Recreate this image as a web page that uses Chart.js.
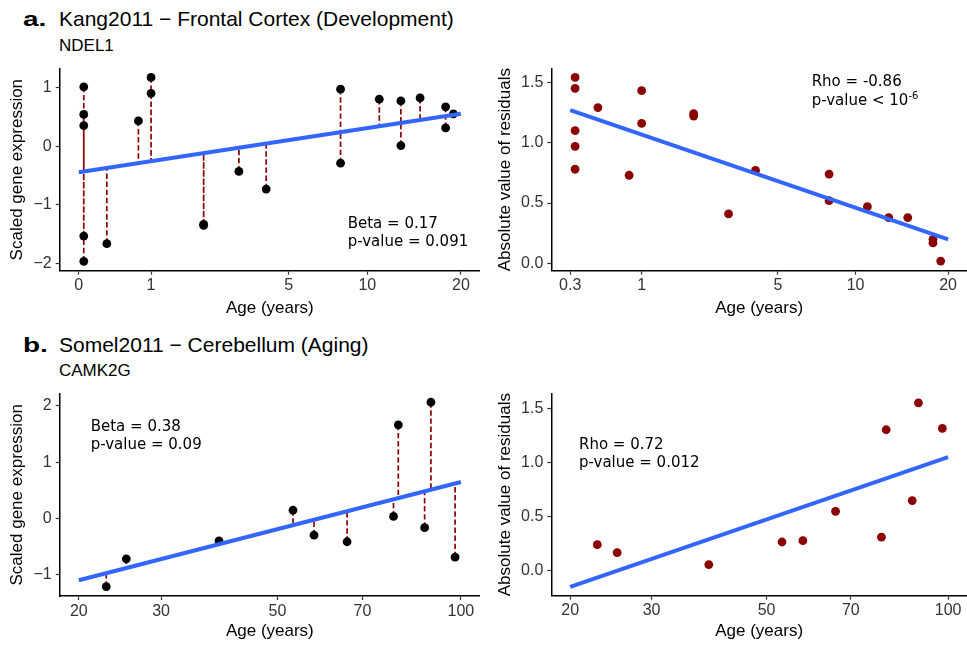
<!DOCTYPE html>
<html>
<head>
<meta charset="utf-8">
<script src="https://cdn.jsdelivr.net/npm/chart.js@4.4.1/dist/chart.umd.min.js"></script>
<style>
body { margin:0; background:#fff; width:967px; height:646px; position:relative; overflow:hidden; font-family:'Liberation Sans', Arial, sans-serif; }
canvas { position:absolute; }
.txt { position:absolute; white-space:nowrap; color:#000; }
.tag { font-weight:bold; font-size:20px; line-height:20px; transform:scaleX(1.4); transform-origin:left center; }
.title { font-size:21px; line-height:21px; }
.sub { font-size:17px; line-height:17px; }
.note { font-family:'DejaVu Sans', sans-serif; font-size:15px; line-height:18.5px; }
.note sup { font-size:10px; vertical-align:6px; line-height:0; }
</style>
</head>
<body>
<div class="txt tag" style="left:23px;top:8.8px">a.</div>
<div class="txt title" style="left:59px;top:8px">Kang2011 − Frontal Cortex (Development)</div>
<div class="txt sub" style="left:59px;top:36.6px">NDEL1</div>
<div class="txt tag" style="left:23px;top:335.1px">b.</div>
<div class="txt title" style="left:59px;top:334.2px">Somel2011 − Cerebellum (Aging)</div>
<div class="txt sub" style="left:59px;top:362.3px">CAMK2G</div>

<canvas id="chartA" width="480" height="270" style="left:0;top:55px"></canvas>
<canvas id="chartB" width="487" height="270" style="left:480px;top:55px"></canvas>
<canvas id="chartC" width="480" height="266" style="left:0;top:380px"></canvas>
<canvas id="chartD" width="487" height="266" style="left:480px;top:380px"></canvas>

<div class="txt note" style="left:347.7px;top:213.5px">Beta = 0.17<br>p-value = 0.091</div>
<div class="txt note" style="left:811.7px;top:72px">Rho = -0.86<br>p-value &lt; 10<sup>-6</sup></div>
<div class="txt note" style="left:90.7px;top:416.5px">Beta = 0.38<br>p-value = 0.09</div>
<div class="txt note" style="left:579px;top:434.8px">Rho = 0.72<br>p-value = 0.012</div>

<script>
// Kang2011 frontal cortex, NDEL1 (ages in years)
const agesA = [0.33, 0.33, 0.33, 0.33, 0.33, 0.5, 0.83, 1, 1, 2, 2, 3, 4, 8, 8, 11, 13, 13, 15, 18, 18, 19]
const exprA = [1.01, 0.54, 0.35, -1.53, -1.96, -1.66, 0.43, 1.17, 0.9, -1.35, -1.33, -0.43, -0.73, 0.97, -0.29, 0.8, 0.77, 0.01, 0.82, 0.67, 0.31, 0.55]
const residAgesA = [0.33, 0.33, 0.33, 0.33, 0.33, 0.5, 0.83, 1, 1, 2, 2, 3, 4, 8, 8, 11, 13, 15, 18, 18, 19]
const residA = [1.54, 1.45, 1.10, 0.97, 0.78, 1.29, 0.73, 1.43, 1.16, 1.24, 1.22, 0.41, 0.77, 0.74, 0.52, 0.47, 0.38, 0.38, 0.20, 0.17, 0.02]
const fitAgesA = [0.3, 20]
const fitExprA = [-0.445, 0.55]
const fitResidA = [1.27, 0.2]
const xTicksA = [0.3, 1, 5, 10, 20]
const xLabelsA = ['0', '1', '5', '10', '20']
const xLabelsResA = ['0.3', '1', '5', '10', '20']

// Somel2011 cerebellum, CAMK2G
const agesB = [23, 25.4, 39, 53.3, 58, 66, 78.6, 80, 88, 90, 98]
const exprB = [-1.215, -0.718, -0.398, 0.145, -0.298, -0.415, 0.035, 1.664, -0.165, 2.066, -0.69]
const residB = [0.239, 0.166, 0.054, 0.264, 0.276, 0.549, 0.309, 1.307, 0.649, 1.556, 1.319]
const fitAgesB = [20, 100]
const fitExprB = [-1.10, 0.648]
const fitResidB = [-0.152, 1.052]
const xTicksB = [20, 30, 50, 70, 100]
const xLabelsB = ['20', '30', '50', '70', '100']

const yTicksExprA = [-2, -1, 0, 1]
const yTicksExprB = [-1, 0, 1, 2]
const yTicksRes = [0, 0.5, 1, 1.5]

const BLUE = '#3366FF'
const DARKRED = '#8B0000'
const tickFont = {family: "'Liberation Sans', Arial, sans-serif", size: 16}
const titleFont = {family: "'Liberation Sans', Arial, sans-serif", size: 17}

// the age axis is drawn on a fourth-root scale
function tr(a){ return Math.pow(a, 0.25) }

function fitAt(age, fitAges, fitVals){
    let t0 = tr(fitAges[0]), t1 = tr(fitAges[1])
    return fitVals[0] + (tr(age) - t0) / (t1 - t0) * (fitVals[1] - fitVals[0])
}

// expanded axis limits like ggplot (5% each side)
function xLimits(ticks){
    let lo = tr(ticks[0]), hi = tr(ticks[ticks.length - 1])
    let pad = (hi - lo) * 0.05
    return [lo - pad, hi + pad]
}

function fitLine(fitAges, fitVals){
    return fitAges.map((a, i) => ({x: tr(a), y: fitVals[i]}))
}

function exprDatasets(ages, vals, fitAges, fitVals){
    let segs = []
    ages.forEach((a, i) => {
        segs.push({x: tr(a), y: vals[i]})
        segs.push({x: tr(a), y: fitAt(a, fitAges, fitVals)})
        segs.push({x: tr(a), y: null})
    })
    return [
        {data: fitLine(fitAges, fitVals), borderColor: BLUE, borderWidth: 4, pointRadius: 0, order: 0},
        {data: ages.map((a, i) => ({x: tr(a), y: vals[i]})), showLine: false, pointRadius: 4.4,
         pointBackgroundColor: '#000', pointBorderWidth: 0, order: 1},
        {data: segs, borderColor: DARKRED, borderWidth: 1.7, borderDash: [5.4, 2.7], pointRadius: 0, spanGaps: false, order: 2}
    ]
}

function residDatasets(ages, vals, fitAges, fitVals){
    return [
        {data: fitLine(fitAges, fitVals), borderColor: BLUE, borderWidth: 4, pointRadius: 0, order: 0},
        {data: ages.map((a, i) => ({x: tr(a), y: vals[i]})), showLine: false, pointRadius: 4.4,
         pointBackgroundColor: DARKRED, pointBorderWidth: 0, order: 1}
    ]
}

function fmtExpr(v){ return v < 0 ? '\u2212' + Math.abs(v) : String(v) }
function fmtRes(v){ return v.toFixed(1) }

function makeChart(id, p){
    let lim = xLimits(p.xTicks)
    new Chart(document.getElementById(id), {
        type: 'line',
        data: {datasets: p.datasets},
        options: {
            responsive: false,
            animation: false,
            devicePixelRatio: 1,
            events: [],
            layout: {autoPadding: false, padding: {top: p.padTop, left: 0, right: 0, bottom: 0}},
            plugins: {legend: {display: false}, tooltip: {enabled: false}},
            scales: {
                x: {
                    type: 'linear', min: lim[0], max: lim[1],
                    afterBuildTicks: s => { s.ticks = p.xTicks.map(a => ({value: tr(a)})) },
                    afterFit: s => { s.height = p.xHeight },
                    ticks: {autoSkip: false, maxRotation: 0, padding: 1.5, color: '#333', font: tickFont,
                            callback: (v, i) => p.xLabels[i]},
                    grid: {drawOnChartArea: false, drawTicks: true, tickLength: 4, tickColor: '#333', tickWidth: 1.2},
                    border: {display: true, color: '#000', width: 1.5},
                    title: {display: true, text: 'Age (years)', color: '#000', font: titleFont,
                            padding: {top: 0, bottom: p.xTitlePad}}
                },
                y: {
                    type: 'linear', min: p.yMin, max: p.yMax,
                    afterBuildTicks: s => { s.ticks = p.yTicks.map(v => ({value: v})) },
                    afterFit: s => { s.width = p.yWidth },
                    ticks: {autoSkip: false, padding: 4, color: '#333', font: tickFont, callback: v => p.yFmt(v)},
                    grid: {drawOnChartArea: false, drawTicks: true, tickLength: 4, tickColor: '#333', tickWidth: 1.2},
                    border: {display: true, color: '#000', width: 1.5},
                    title: {display: true, text: p.yTitle, color: '#000', font: titleFont,
                            padding: {top: p.yTitlePad, bottom: 0}}
                }
            }
        }
    })
}

makeChart('chartA', {
    datasets: exprDatasets(agesA, exprA, fitAgesA, fitExprA),
    xTicks: xTicksA, xLabels: xLabelsA, yTicks: yTicksExprA, yFmt: fmtExpr,
    yMin: -2.12, yMax: 1.32, yTitle: 'Scaled gene expression',
    padTop: 10.7, yWidth: 59.7, yTitlePad: 7.3, xHeight: 54.3, xTitlePad: 6.3
})
makeChart('chartB', {
    datasets: residDatasets(residAgesA, residA, fitAgesA, fitResidA),
    xTicks: xTicksA, xLabels: xLabelsResA, yTicks: yTicksRes, yFmt: fmtRes,
    yMin: -0.06, yMax: 1.613, yTitle: 'Absolute value of residuals',
    padTop: 10, yWidth: 71.3, yTitlePad: 15.5, xHeight: 54.3, xTitlePad: 6.3
})
makeChart('chartC', {
    datasets: exprDatasets(agesB, exprB, fitAgesB, fitExprB),
    xTicks: xTicksB, xLabels: xLabelsB, yTicks: yTicksExprB, yFmt: fmtExpr,
    yMin: -1.38, yMax: 2.22, yTitle: 'Scaled gene expression',
    padTop: 10.7, yWidth: 59.7, yTitlePad: 7.3, xHeight: 50, xTitlePad: 4.8
})
makeChart('chartD', {
    datasets: residDatasets(agesB, residB, fitAgesB, fitResidB),
    xTicks: xTicksB, xLabels: xLabelsB, yTicks: yTicksRes, yFmt: fmtRes,
    yMin: -0.235, yMax: 1.643, yTitle: 'Absolute value of residuals',
    padTop: 10, yWidth: 71.3, yTitlePad: 15.5, xHeight: 50.3, xTitlePad: 4.8
})
</script>
</body>
</html>
